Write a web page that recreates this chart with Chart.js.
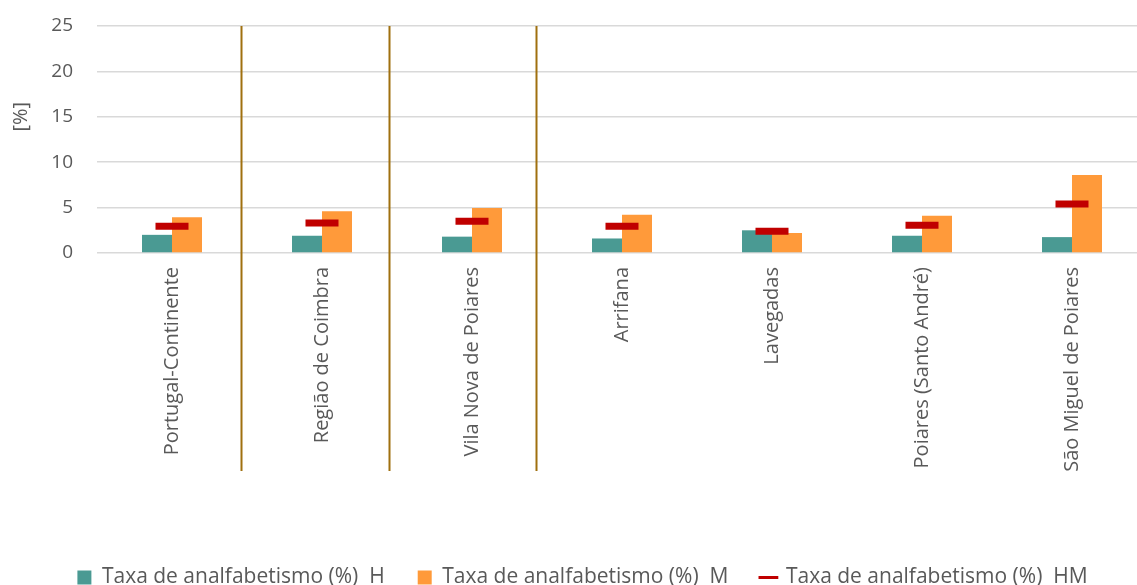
<!DOCTYPE html>
<html>
<head>
<meta charset="utf-8">
<script src="https://cdn.jsdelivr.net/npm/chart.js@4/dist/chart.umd.min.js"></script>
<style>
    html, body { margin: 0; padding: 0; overflow: hidden; background: #fff; width: 1137px; height: 585px; }
    #chart { position: absolute; left: 0; top: 0; }
</style>
</head>
<body>
<canvas id="chart" width="1147" height="598"></canvas>
<script>
"use strict";

const categories = ['Portugal-Continente', 'Região de Coimbra', 'Vila Nova de Poiares', 'Arrifana',
    'Lavegadas', 'Poiares (Santo André)', 'São Miguel de Poiares'];
const valuesH = [2.0, 1.9, 1.8, 1.6, 2.5, 1.9, 1.75];
const valuesM = [3.95, 4.6, 4.95, 4.2, 2.2, 4.1, 8.6];
const valuesHM = [2.95, 3.3, 3.5, 2.95, 2.4, 3.05, 5.4];
const yTicks = [0, 5, 10, 15, 20, 25];
const seriesNames = ['Taxa de analfabetismo (%)  H', 'Taxa de analfabetismo (%)  M', 'Taxa de analfabetismo (%)  HM'];
// brown dividers between the first groups (in category units)
const separatorAt = [0.46, 1.447, 2.427];

const fontFamily = "'Open Sans', 'DejaVu Sans', sans-serif";
const textColor = '#595959';

// draws the brown dividers and the "[%]" axis title
const extras = {
    id: 'extras',
    afterLayout(chart) {
        // legend sits a little right of centre in the original
        chart.legend.left += 9;
        chart.legend.right += 9;
    },
    afterDatasetsDraw(chart) {
        const ctx = chart.ctx;
        const x = chart.scales.x;
        const y = chart.scales.y;
        ctx.save();
        ctx.strokeStyle = '#A0700F';
        ctx.lineWidth = 2;
        separatorAt.forEach(function (p) {
            const px = Math.round(x.getPixelForValue(p)) + 0.5;
            ctx.beginPath();
            ctx.moveTo(px, chart.chartArea.top);
            ctx.lineTo(px, chart.chartArea.bottom + 218);
            ctx.stroke();
        });
        ctx.translate(21, y.getPixelForValue(15));
        ctx.rotate(-Math.PI / 2);
        ctx.fillStyle = textColor;
        ctx.font = "20px " + fontFamily;
        ctx.textAlign = 'center';
        ctx.textBaseline = 'middle';
        ctx.fillText('[%]', 0, 0);
        ctx.restore();
    }
};

const myChart = new Chart(document.getElementById('chart'), {
    type: 'bar',
    data: {
        labels: categories,
        datasets: [{
            label: seriesNames[0],
            data: valuesH,
            backgroundColor: '#4A9A93',
            categoryPercentage: 0.4,
            barPercentage: 1.0,
            order: 2
        }, {
            label: seriesNames[1],
            data: valuesM,
            backgroundColor: '#FF9A3A',
            categoryPercentage: 0.4,
            barPercentage: 1.0,
            order: 2
        }, {
            type: 'line',
            label: seriesNames[2],
            data: valuesHM,
            showLine: false,
            pointStyle: 'line',
            pointRadius: 16.5,
            pointHoverRadius: 16.5,
            pointBorderWidth: 7,
            borderColor: '#C00000',
            backgroundColor: '#C00000',
            order: 1
        }]
    },
    options: {
        responsive: false,
        animation: false,
        layout: { autoPadding: false, padding: { top: 26, left: 0, right: 0, bottom: 0 } },
        plugins: {
            tooltip: { enabled: false },
            legend: {
                position: 'bottom',
                labels: {
                    color: textColor,
                    font: { family: fontFamily, size: 21 },
                    usePointStyle: true,
                    boxWidth: 14,
                    boxHeight: 14,
                    padding: 33,
                    generateLabels: function (chart) {
                        return chart.data.datasets.map(function (ds, i) {
                            const isLine = ds.type === 'line';
                            return {
                                text: ds.label,
                                fillStyle: ds.backgroundColor,
                                strokeStyle: isLine ? ds.borderColor : ds.backgroundColor,
                                lineWidth: isLine ? 3 : 0,
                                pointStyle: isLine ? 'line' : 'rect',
                                fontColor: textColor,
                                datasetIndex: i,
                                hidden: false
                            };
                        });
                    }
                }
            }
        },
        scales: {
            x: {
                grid: { display: false, drawTicks: false },
                border: { display: false },
                ticks: {
                    color: textColor,
                    font: { family: fontFamily, size: 20 },
                    minRotation: 90,
                    maxRotation: 90,
                    padding: 14,
                    autoSkip: false
                },
                afterFit: function (scale) {
                    scale.height = 281;
                    scale.paddingLeft = 0;
                    scale.paddingRight = 0;
                }
            },
            y: {
                min: 0,
                max: 25,
                afterBuildTicks: function (scale) {
                    scale.ticks = yTicks.map(function (v) { return { value: v }; });
                },
                grid: { color: '#D9D9D9', lineWidth: 1.5, drawTicks: false },
                border: { display: false },
                ticks: {
                    color: textColor,
                    font: { family: fontFamily, size: 19 },
                    padding: 24
                },
                afterFit: function (scale) {
                    scale.width = 97;
                    scale.paddingTop = 0;
                    scale.paddingBottom = 0;
                }
            }
        }
    },
    plugins: [extras]
});
</script>
</body>
</html>
